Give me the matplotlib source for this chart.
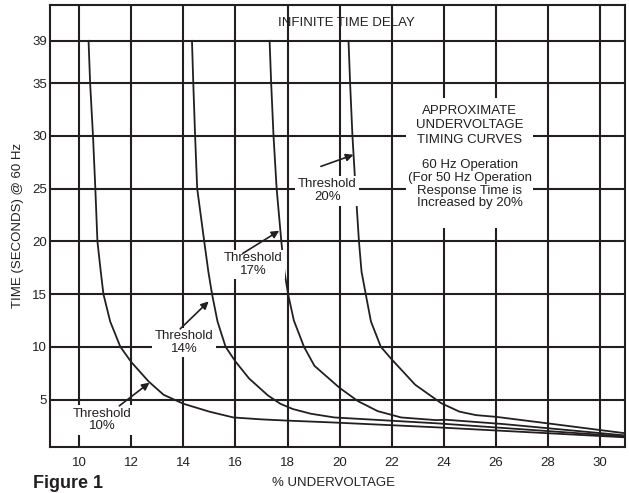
import numpy as np
import matplotlib.pyplot as plt

plt.rcParams['font.family'] = ['Liberation Sans', 'DejaVu Sans']

# curves: % undervoltage vs time (s)
x10 = [10.36, 10.42, 10.53, 10.62, 10.70, 10.83, 10.93, 11.19, 11.58, 12.0, 12.67, 13.24, 14.0, 15.0, 15.92, 17.0, 18.0, 19.7, 23.68, 30.94]
y10 = [39, 35, 30, 25, 20, 17.1, 15, 12.4, 10, 8.55, 6.7, 5.45, 4.6, 3.85, 3.3, 3.12, 3.0, 2.83, 2.37, 1.42]

x14 = [14.33, 14.38, 14.45, 14.53, 14.8, 14.96, 15.1, 15.31, 15.62, 16.0, 16.52, 17.24, 17.72, 18.2, 18.9, 19.8, 23.7, 30.94]
y14 = [39, 35, 30, 25, 20, 17.1, 15, 12.4, 10, 8.6, 7.0, 5.4, 4.6, 4.1, 3.65, 3.3, 2.75, 1.5]

x17 = [17.31, 17.37, 17.46, 17.58, 17.76, 17.88, 18.02, 18.24, 18.63, 19.03, 20.0, 20.7, 21.46, 22.36, 23.69, 24.1, 26.26, 30.94]
y17 = [39, 35, 30, 25, 20, 17.1, 15, 12.5, 10, 8.2, 6.1, 4.85, 3.9, 3.3, 3.05, 3.08, 2.68, 1.6]

x20 = [20.34, 20.4, 20.49, 20.61, 20.74, 20.84, 21.0, 21.2, 21.58, 22.0, 22.9, 23.9, 24.6, 25.24, 26.0, 27.99, 30.94]
y20 = [39, 35, 30, 25, 20, 17.1, 15, 12.4, 10, 8.8, 6.4, 4.65, 3.85, 3.52, 3.36, 2.74, 1.81]

xticks = [10, 12, 14, 16, 18, 20, 22, 24, 26, 28, 30]
yticks = [5, 10, 15, 20, 25, 30, 35, 39]

ink = '#231f20'

fig = plt.figure(figsize=(6.29, 4.93), dpi=100)
ax = fig.add_axes([0.0795, 0.0933, 0.914, 0.8966])

for xs, ys in [(x10, y10), (x14, y14), (x17, y17), (x20, y20)]:
    ax.plot(xs, ys, color=ink, lw=1.3, zorder=3, solid_joinstyle='round')

ax.set_xlim(8.88, 30.95)
ax.set_ylim(0.5, 42.4)
ax.set_xticks(xticks)
ax.set_yticks(yticks)
ax.tick_params(length=0, labelsize=9.5, colors=ink)
ax.tick_params(axis='x', pad=7)
ax.tick_params(axis='y', pad=2)
ax.grid(True, color=ink, lw=1.5)
ax.set_axisbelow(True)
for s in ax.spines.values():
    s.set_color(ink)
    s.set_linewidth(1.5)

# labels
box = dict(boxstyle='square,pad=0.2', fc='white', ec='none')
ax.text(20.26, 40.7, 'INFINITE TIME DELAY', fontsize=9.5, ha='center', va='center', color=ink, zorder=0.2)

labels = [
    ('Threshold\n10%', 10.88, 3.08, (11.54, 4.4), (12.7, 6.6)),
    ('Threshold\n14%', 14.04, 10.4, (13.88, 11.7), (14.97, 14.3)),
    ('Threshold\n17%', 16.68, 17.8, (16.28, 18.85), (17.68, 21.0)),
    ('Threshold\n20%', 19.52, 24.8, (19.28, 27.1), (20.53, 28.2)),
]
for txt, tx, ty, tail, tip in labels:
    ax.text(tx, ty, txt, fontsize=9.5, ha='center', va='center', color=ink,
            linespacing=1.05, bbox=box, zorder=5)
    ax.annotate('', xy=tip, xytext=tail,
                arrowprops=dict(arrowstyle='-|>', color=ink, lw=1.2, mutation_scale=11,
                                shrinkA=0, shrinkB=0), zorder=6)

# white block behind the note
ax.add_patch(plt.Rectangle((22.56, 21.3), 4.88, 12.26, fc='white', ec='none', zorder=2))
ax.text(25.0, 31.0, 'APPROXIMATE\nUNDERVOLTAGE\nTIMING CURVES', fontsize=9.5,
        ha='center', va='center', color=ink, linespacing=1.3, zorder=5)
ax.text(25.0, 25.4, '60 Hz Operation\n(For 50 Hz Operation\nResponse Time is\nIncreased by 20%',
        fontsize=9.5, ha='center', va='center', color=ink, linespacing=1.08, zorder=5)

fig.text(333 / 629, 1 - 483 / 493, '% UNDERVOLTAGE', fontsize=9.5, ha='center', va='center', color=ink)
fig.text(18 / 629, 1 - 225 / 493, 'TIME (SECONDS) @ 60 Hz', fontsize=9.5, ha='center', va='center',
         rotation=90, color=ink)
fig.text(33 / 629, 1 - 483 / 493, 'Figure 1', fontsize=13, fontweight='bold', ha='left', va='center', color=ink)

plt.savefig('out.png', dpi=100)
